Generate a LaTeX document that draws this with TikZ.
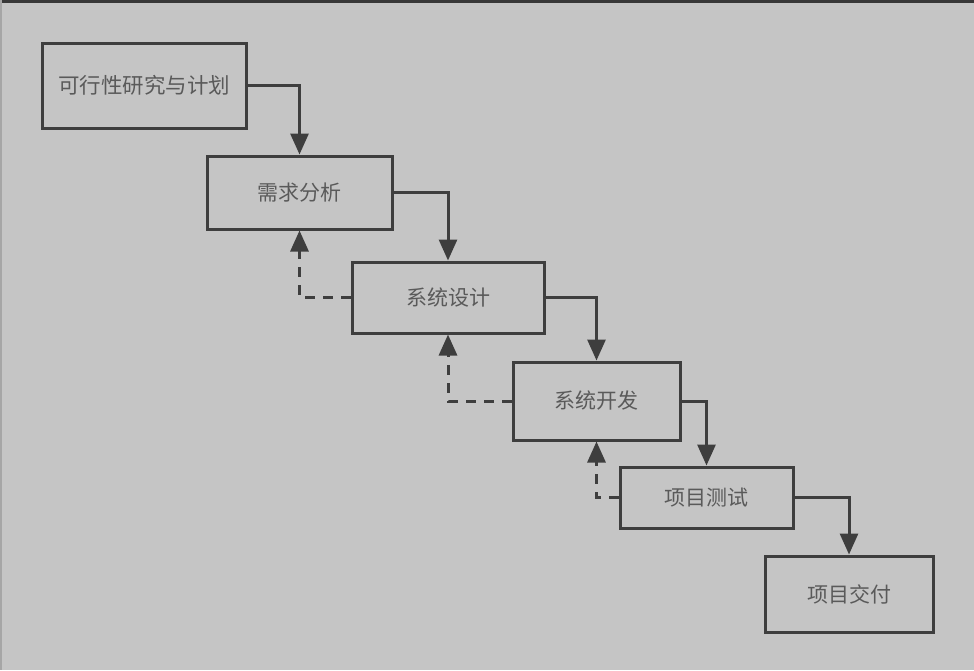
\documentclass[tikz,border=0pt]{standalone}
\usepackage{fontspec}
\newfontfamily\cjk{Noto Sans CJK SC}
\usetikzlibrary{arrows.meta}
\definecolor{bg}{HTML}{C5C5C5}
\definecolor{ln}{HTML}{3E3E3E}
\definecolor{tx}{HTML}{5A5A5A}
\tikzset{
  stage/.style={draw=ln, line width=3pt, fill=bg, minimum width=#1, inner sep=0pt, text=tx, font=\cjk\fontsize{21pt}{24pt}\selectfont},
  flow/.style={draw=ln, line width=3pt, -{Triangle[width=18pt,length=21pt]}},
  back/.style={draw=ln, line width=3pt, dash pattern=on 10pt off 8pt, -{Triangle[width=18pt,length=21pt]}}
}
\begin{document}
\begin{tikzpicture}[x=1pt,y=-1pt]
\fill[bg] (0,0) rectangle (974,670);
\useasboundingbox (0,0) rectangle (974,670);
\fill[ln!90!black] (0,0) rectangle (974,3);
\fill[gray!70] (0,0) rectangle (1.5,670);
\node[stage=204pt, minimum height=85pt, font=\cjk\fontsize{21.5pt}{24pt}\selectfont] (s1) at (144,85.5) {可行性研究与计划};
\node[stage=185pt, minimum height=73pt] (s2) at (299.5,192.5) {需求分析};
\node[stage=192pt, minimum height=71pt] (s3) at (448,297.5) {系统设计};
\node[stage=167pt, minimum height=78pt] (s4) at (596.5,401) {系统开发};
\node[stage=173pt, minimum height=61pt] (s5) at (706.5,497.5) {项目测试};
\node[stage=168pt, minimum height=76pt] (s6) at (849,594) {项目交付};
\draw[flow] (s1.east) -| (s2.north);
\draw[flow] (s2.east) -| (s3.north);
\draw[flow] (s3.east) -| (s4.north);
\draw[flow] (s4.east) -| (s5.north);
\draw[flow] (s5.east) -| (s6.north);
\draw[back] (s3.west) -| (s2.south);
\draw[back] (s4.west) -| (s3.south);
\draw[back] (s5.west) -| (s4.south);
\end{tikzpicture}
\end{document}
